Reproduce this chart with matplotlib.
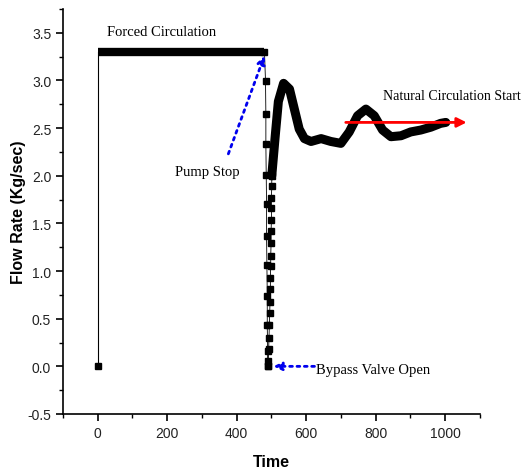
import matplotlib.pyplot as plt

# forced circulation plateau
plateau_t = [0, 480]
plateau_v = [3.3, 3.3]

# start point at t=0
start_t = [0, 0]
start_v = [0.0, 3.3]

# pump stop: flow drops
drop_t = [480, 483, 484, 484, 485, 486, 486, 487, 488, 488, 489, 489]
drop_v = [3.3, 2.99, 2.65, 2.33, 2.01, 1.70, 1.37, 1.06, 0.74, 0.43, 0.16, 0.0]

# bypass open: flow rises again
rise_t = [489, 491, 492, 493, 494, 495, 496, 497, 497, 498, 498, 499, 499, 500, 500, 500, 501, 501]
rise_v = [0.0, 0.06, 0.18, 0.30, 0.43, 0.56, 0.68, 0.81, 0.93, 1.05, 1.16, 1.29, 1.42, 1.54, 1.66, 1.77, 1.89, 2.00]

# natural circulation oscillation
curve_t = [501, 511, 520, 535, 552, 566, 580, 595, 614, 643, 671, 700, 724, 748, 772,
           796, 820, 844, 873, 901, 930, 959, 987, 1002]
curve_v = [2.00, 2.42, 2.78, 2.97, 2.91, 2.70, 2.49, 2.39, 2.36, 2.39, 2.36, 2.34, 2.46,
           2.63, 2.70, 2.63, 2.48, 2.41, 2.42, 2.46, 2.48, 2.51, 2.55, 2.56]

fig = plt.figure(figsize=(5.25, 4.77), dpi=100)
ax = fig.add_axes([0.12, 0.13, 0.794, 0.849])

# thin line at t=0 with marker at origin
ax.plot(start_t, start_v, color='black', lw=0.8)
ax.plot([0], [0.0], 's', color='black', ms=4.5)

# plateau
ax.plot(plateau_t, plateau_v, color='black', lw=6, solid_capstyle='butt')

# drop and rise
ax.plot(drop_t, drop_v, color='black', lw=0.6, marker='s', ms=4.5)
ax.plot(rise_t, rise_v, color='black', lw=0.6, marker='s', ms=4.5)

# oscillating curve
ax.plot(curve_t, curve_v, color='black', lw=6.5, solid_capstyle='round', solid_joinstyle='round')

# annotations
serif = 'Liberation Serif'
ax.text(26, 3.51, 'Forced Circulation', family=serif, fontsize=10.5, va='center')
ax.text(221, 2.05, 'Pump Stop', family=serif, fontsize=10.5, va='center')
ax.text(629, -0.03, 'Bypass Valve Open', family=serif, fontsize=10.5, va='center')
ax.text(822, 2.84, 'Natural Circulation Start', family=serif, fontsize=10, va='center',
        clip_on=False)

ax.annotate('', xy=(480, 3.26), xytext=(376, 2.23),
            arrowprops=dict(arrowstyle='-|>', color='#0000ee', lw=2, linestyle=':',
                            mutation_scale=12, shrinkA=0, shrinkB=0))
ax.annotate('', xy=(506, 0.0), xytext=(624, 0.0),
            arrowprops=dict(arrowstyle='-|>', color='#0000ee', lw=2, linestyle=':',
                            mutation_scale=12, shrinkA=0, shrinkB=0))
ax.annotate('', xy=(1062, 2.56), xytext=(714, 2.56),
            arrowprops=dict(arrowstyle='-|>', color='red', lw=2,
                            mutation_scale=14, shrinkA=0, shrinkB=0))

# axes
ax.set_xlim(-100, 1100)
ax.set_ylim(-0.5, 3.75)
ax.set_xticks([0, 200, 400, 600, 800, 1000])
ax.set_xticks(range(-100, 1101, 100), minor=True)
ax.set_yticks([-0.5, 0.0, 0.5, 1.0, 1.5, 2.0, 2.5, 3.0, 3.5])
ax.set_yticks([-0.5 + 0.25 * i for i in range(18)], minor=True)
ax.set_yticklabels(['-0.5', '0.0', '0.5', '1.0', '1.5', '2.0', '2.5', '3.0', '3.5'])

for s in ['top', 'right']:
    ax.spines[s].set_visible(False)
for s in ['left', 'bottom']:
    ax.spines[s].set_linewidth(1.2)

ax.tick_params(which='major', direction='out', length=5, width=1.2)
ax.tick_params(which='minor', direction='out', length=3, width=1)
for lab in ax.get_xticklabels() + ax.get_yticklabels():
    lab.set_family(['Liberation Sans Narrow', 'Liberation Sans'])
    lab.set_fontsize(10)
    lab.set_color('#222222')

ax.set_xlabel('Time', family='Liberation Sans', fontweight='bold', fontsize=11.5, labelpad=10)
ax.set_ylabel('Flow Rate (Kg/sec)', family='Liberation Sans', fontweight='bold', fontsize=11.5,
              labelpad=1)

plt.savefig('out.png')
